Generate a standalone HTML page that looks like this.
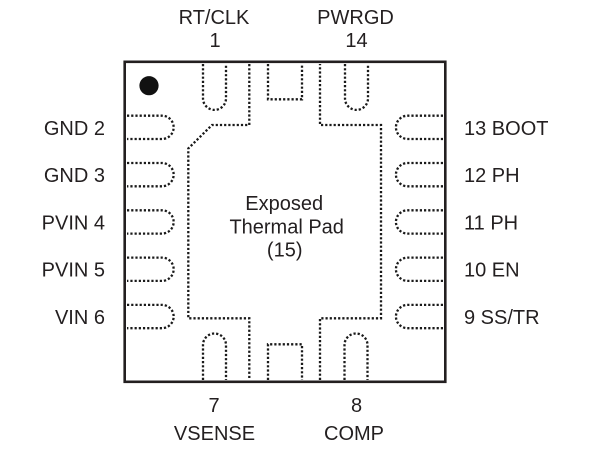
<!DOCTYPE html>
<html>
<head>
<meta charset="utf-8">
<style>
  html, body { margin: 0; padding: 0; background: #fff; }
  svg { display: block; }
  text { font-family: "Liberation Sans", Arial, sans-serif; font-size: 20px; fill: #231f20; }
</style>
</head>
<body>
<svg width="604" height="456" viewBox="0 0 604 456" xmlns="http://www.w3.org/2000/svg">
  <!-- package outline -->
  <rect x="124.7" y="61.8" width="320.6" height="320" fill="none" stroke="#231f20" stroke-width="2.6"/>
  <!-- pin 1 dot -->
  <circle cx="149" cy="85.7" r="9.6" fill="#111"/>

  <g fill="none" stroke="#1a1a1a" stroke-width="2.3" stroke-dasharray="2.2 2">
    <!-- left pins -->
    <path d="M127,115.7 H162 A11.65,11.65 0 0 1 162,139 H127"/>
    <path d="M127,163 H162 A11.65,11.65 0 0 1 162,186.3 H127"/>
    <path d="M127,210.3 H162 A11.65,11.65 0 0 1 162,233.6 H127"/>
    <path d="M127,257.6 H162 A11.65,11.65 0 0 1 162,280.9 H127"/>
    <path d="M127,304.9 H162 A11.65,11.65 0 0 1 162,328.2 H127"/>
    <!-- right pins -->
    <path d="M443,115.7 H407.6 A11.65,11.65 0 0 0 407.6,139 H443"/>
    <path d="M443,163 H407.6 A11.65,11.65 0 0 0 407.6,186.3 H443"/>
    <path d="M443,210.3 H407.6 A11.65,11.65 0 0 0 407.6,233.6 H443"/>
    <path d="M443,257.6 H407.6 A11.65,11.65 0 0 0 407.6,280.9 H443"/>
    <path d="M443,304.9 H407.6 A11.65,11.65 0 0 0 407.6,328.2 H443"/>
    <!-- top pins -->
    <path d="M203,64 V98.4 A11.5,11.5 0 0 0 226,98.4 V64"/>
    <path d="M345,64 V98.4 A11.5,11.5 0 0 0 368,98.4 V64"/>
    <path d="M268,64 V99.3 H302 V64"/>
    <!-- bottom pins -->
    <path d="M203,380 V345 A11.5,11.5 0 0 1 226,345 V380"/>
    <path d="M344.5,380 V345 A11.5,11.5 0 0 1 367.5,345 V380"/>
    <path d="M268,380 V344.3 H302 V380"/>
    <!-- exposed pad -->
    <path d="M249.3,64 V125 H212 L188.3,148.5 V318.3 H249.3 V380"/>
    <path d="M320,380 V318.3 H381 V125 H320 V64"/>
  </g>

  <!-- top labels -->
  <text x="214" y="24" text-anchor="middle">RT/CLK</text>
  <text x="215" y="47" text-anchor="middle">1</text>
  <text x="355.5" y="24" text-anchor="middle">PWRGD</text>
  <text x="356.5" y="47" text-anchor="middle">14</text>

  <!-- left labels -->
  <text x="105" y="135" text-anchor="end">GND 2</text>
  <text x="105" y="182.2" text-anchor="end">GND 3</text>
  <text x="105" y="229.4" text-anchor="end">PVIN 4</text>
  <text x="105" y="276.6" text-anchor="end">PVIN 5</text>
  <text x="105" y="323.8" text-anchor="end">VIN 6</text>

  <!-- right labels -->
  <text x="464" y="135">13 BOOT</text>
  <text x="464" y="182.2">12 PH</text>
  <text x="464" y="229.4">11 PH</text>
  <text x="464" y="276.6">10 EN</text>
  <text x="464" y="323.8">9 SS/TR</text>

  <!-- bottom labels -->
  <text x="214" y="412" text-anchor="middle">7</text>
  <text x="214.5" y="440" text-anchor="middle">VSENSE</text>
  <text x="356.5" y="412" text-anchor="middle">8</text>
  <text x="354" y="440" text-anchor="middle">COMP</text>

  <!-- center labels -->
  <text x="284.2" y="210" text-anchor="middle">Exposed</text>
  <text x="286.7" y="233.5" text-anchor="middle">Thermal Pad</text>
  <text x="284.7" y="256.5" text-anchor="middle">(15)</text>
</svg>
</body>
</html>
